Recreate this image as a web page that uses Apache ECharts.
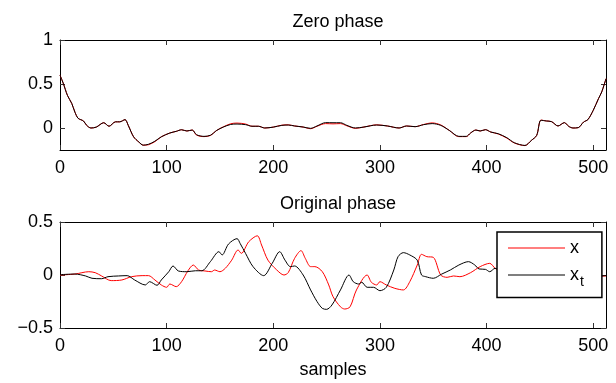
<!DOCTYPE html>
<html>
<head>
<meta charset="utf-8">
<script src="https://cdn.jsdelivr.net/npm/echarts@6/dist/echarts.min.js"></script>
<style>html,body{margin:0;padding:0;background:#fff}#c{width:616px;height:383px}</style>
</head>
<body>
<div id="c"></div>
<script>
// ---- data ----
var titles = ['Zero phase', 'Original phase'];
var xLabelName = 'samples';
var xTicks = [0, 100, 200, 300, 400, 500];
var zeroTicksY = [0, 0.5, 1];
var origTicksY = [-0.5, 0, 0.5];

var zeroPos = [0,3,7,11,14,17,22,25,29,34,41,46,52,56,61,64,69,74,78,83,89,95,103,109,114,119,124,128,135,141,147,153,160,166,174,180,186,192,200,208,214,220,228,235,241,249,256,263,269,277,285,297,307,318,325,333,341,349,357,365,374,381,385,390,394,399,404,411,419,426,436,442,447,451,456,461,467,473,477,481,486,491,495,500,505,508,512];
var zeroXt = [0.60,0.51,0.37,0.28,0.18,0.11,0.08,0.03,0.00,0.01,0.06,0.02,0.07,0.07,0.095,0.03,-0.10,-0.16,-0.195,-0.185,-0.15,-0.10,-0.057,-0.038,-0.02,-0.034,-0.023,-0.076,-0.095,-0.083,-0.027,0.01,0.04,0.045,0.038,0.02,0.02,0.0,0.01,0.03,0.034,0.023,0.011,-0.004,0.023,0.061,0.06,0.06,0.03,0.0,0.011,0.034,0.023,0.0,0.023,0.015,0.038,0.05,0.03,-0.027,-0.095,-0.095,-0.057,-0.023,-0.034,-0.019,-0.046,-0.065,-0.11,-0.167,-0.198,-0.141,-0.084,0.088,0.08,0.072,0.023,0.061,0.019,0.0,0.004,0.068,0.095,0.2,0.335,0.41,0.56];
var zeroX = [0.60,0.51,0.37,0.28,0.18,0.11,0.08,0.03,0.00,0.01,0.06,0.02,0.07,0.07,0.095,0.03,-0.10,-0.16,-0.195,-0.19,-0.155,-0.10,-0.057,-0.038,-0.02,-0.034,-0.023,-0.08,-0.098,-0.085,-0.027,0.012,0.048,0.056,0.045,0.02,0.02,0.0,0.01,0.032,0.036,0.023,0.011,-0.008,0.02,0.05,0.047,0.05,0.025,-0.004,0.011,0.036,0.023,0.0,0.023,0.015,0.04,0.058,0.035,-0.027,-0.098,-0.098,-0.057,-0.023,-0.034,-0.019,-0.046,-0.068,-0.115,-0.17,-0.2,-0.141,-0.084,0.09,0.08,0.072,0.023,0.061,0.019,0.0,0.004,0.068,0.095,0.2,0.335,0.41,0.56];

var origPosX = [0,14,27,33,39,48,58,67,77,83,89,95,100,103,109,114,120,125,130,136,142,145,150,155,161,167,170,177,185,189,195,203,210,214,220,226,230,235,239,246,252,256,263,267,272,278,288,292,297,300,306,314,322,328,335,339,344,350,357,363,369,375,385,394,403,408,415,425,435,445,455,465,475,485,495,505,512];
var origX = [0,0.009,0.031,0.022,-0.009,-0.053,-0.047,-0.016,-0.006,-0.006,-0.047,-0.094,-0.116,-0.085,-0.11,-0.063,0.04,0.094,0.047,0.038,0.031,0.047,0.031,0.063,0.14,0.236,0.204,0.314,0.37,0.283,0.14,0.05,0,0.022,0.157,0.23,0.157,0.079,0.079,0.031,-0.094,-0.204,-0.30,-0.321,-0.30,-0.141,0,-0.069,-0.094,-0.063,-0.094,-0.126,-0.141,-0.063,0.094,0.195,0.173,0.167,0,-0.022,-0.009,-0.016,0.022,0.079,0.11,0.063,0.02,-0.03,0.01,0.04,-0.02,0.01,-0.03,0.02,0.0,-0.01,-0.01];

var origPosXt = [0,14,24,30,39,45,55,63,70,80,84,91,95,102,106,111,119,127,133,141,149,152,158,166,169,174,181,191,199,206,211,216,220,228,235,241,246,250,255,263,271,275,280,283,288,294,300,306,313,317,322,328,335,339,343,350,358,366,374,383,389,393,399,403,408,415,425,435,445,455,465,475,485,495,505,512];
var origXt = [0.003,0.009,-0.009,-0.031,-0.035,-0.016,-0.009,-0.006,-0.047,-0.094,-0.063,-0.097,-0.047,0.031,0.085,0.038,0.031,0.04,0.04,0.126,0.22,0.189,0.292,0.343,0.296,0.204,0.079,-0.006,0.11,0.22,0.14,0.079,0.085,0,-0.141,-0.25,-0.315,-0.324,-0.283,-0.141,0,-0.063,-0.085,-0.069,-0.116,-0.116,-0.148,-0.116,0.047,0.173,0.211,0.189,0.14,0,-0.016,-0.031,0.009,0.047,0.094,0.126,0.094,0.057,0.053,0.031,0.063,0.03,-0.02,0.02,-0.03,0.01,0.03,-0.01,0.0,0.02,-0.01,-0.005];

function pairs(xs, ys){ return xs.map(function(v,i){ return [v, ys[i]]; }); }

// ---- chart ----
var FONT = 'Liberation Sans, Arial, Helvetica, sans-serif';
var FS = 18;
var chart = echarts.init(document.getElementById('c'), null, {renderer:'canvas'});
var L = 60, R = 10;
var grids = [{left:L, right:R, top:40, height:110}, {left:L, right:R, top:222, height:106}];

function xAx(g, pos, labels){
  return {type:'value', gridIndex:g, position:pos, min:0, max:512, interval:100,
    axisLine:{show:true, onZero:false, lineStyle:{color:'#000', width:1}},
    axisTick:{show:true, inside:true, length:5, customValues:xTicks, lineStyle:{color:'#333'}},
    axisLabel:{show:labels, margin:9, fontSize:FS, color:'#000', fontFamily:FONT, customValues:xTicks},
    splitLine:{show:false}};
}
function yAx(g, pos, labels, min, max, ticks){
  return {type:'value', gridIndex:g, position:pos, min:min, max:max,
    axisLine:{show:true, onZero:false, lineStyle:{color:'#000', width:1}},
    axisTick:{show:true, inside:true, length:5, customValues:ticks, lineStyle:{color:'#333'}},
    axisLabel:{show:labels, margin:7, fontSize:FS, color:'#000', fontFamily:FONT, customValues:ticks,
      formatter:function(v){ return (v<0?'\u2212':'') + String(Math.abs(Math.round(v*100)/100)); }},
    splitLine:{show:false}};
}

var xAxes = [xAx(0,'bottom',true), xAx(0,'top',false), xAx(1,'bottom',true), xAx(1,'top',false)];
xAxes[2].name = xLabelName;
xAxes[2].nameLocation = 'middle';
xAxes[2].nameGap = 33;
xAxes[2].nameTextStyle = {fontSize:FS, color:'#000', fontFamily:FONT};
var yAxes = [yAx(0,'left',true,-0.25,1,zeroTicksY), yAx(0,'right',false,-0.25,1,zeroTicksY),
             yAx(1,'left',true,-0.5,0.5,origTicksY), yAx(1,'right',false,-0.5,0.5,origTicksY)];

function line(name, data, color, xi, yi, z){
  return {type:'line', name:name, data:data, xAxisIndex:xi, yAxisIndex:yi, symbol:'none', showSymbol:false, smooth:0.3,
    lineStyle:{color:color, width:1}, itemStyle:{color:color}, z:z, animation:false, silent:true};
}

var option = {
  backgroundColor:'#fff',
  animation:false,
  title:[
    {text:titles[0], left:333, top:8, textAlign:'center', textStyle:{fontSize:FS, fontWeight:'normal', color:'#000', fontFamily:FONT}},
    {text:titles[1], left:333, top:190, textAlign:'center', textStyle:{fontSize:FS, fontWeight:'normal', color:'#000', fontFamily:FONT}}
  ],
  grid:grids,
  xAxis:xAxes,
  yAxis:yAxes,
  legend:{
    data:[{name:'x', icon:'rect'},{name:'x_t', icon:'rect'}], orient:'vertical', left:497, top:232,
    padding:[7,18,8,11], itemWidth:57, itemHeight:1, itemGap:9,
    borderColor:'#000', borderWidth:1.5, backgroundColor:'#fff', z:10,
    textStyle:{fontSize:FS, color:'#000', fontFamily:FONT,
      rich:{m:{fontSize:FS, fontFamily:FONT, color:'#000'}, s:{fontSize:14, fontFamily:FONT, color:'#000', padding:[15,0,0,1]}}},
    formatter:function(n){ return n==='x_t' ? '{m|x}{s|t}' : '{m|x}'; }
  },
  series:[
    line('x', pairs(zeroPos, zeroX), '#ff0000', 0, 0, 2),
    line('x_t', pairs(zeroPos, zeroXt), '#000000', 0, 0, 3),
    line('x', pairs(origPosX, origX), '#ff0000', 2, 2, 2),
    line('x_t', pairs(origPosXt, origXt), '#000000', 2, 2, 3)
  ]
};
chart.setOption(option);
</script>
</body>
</html>
